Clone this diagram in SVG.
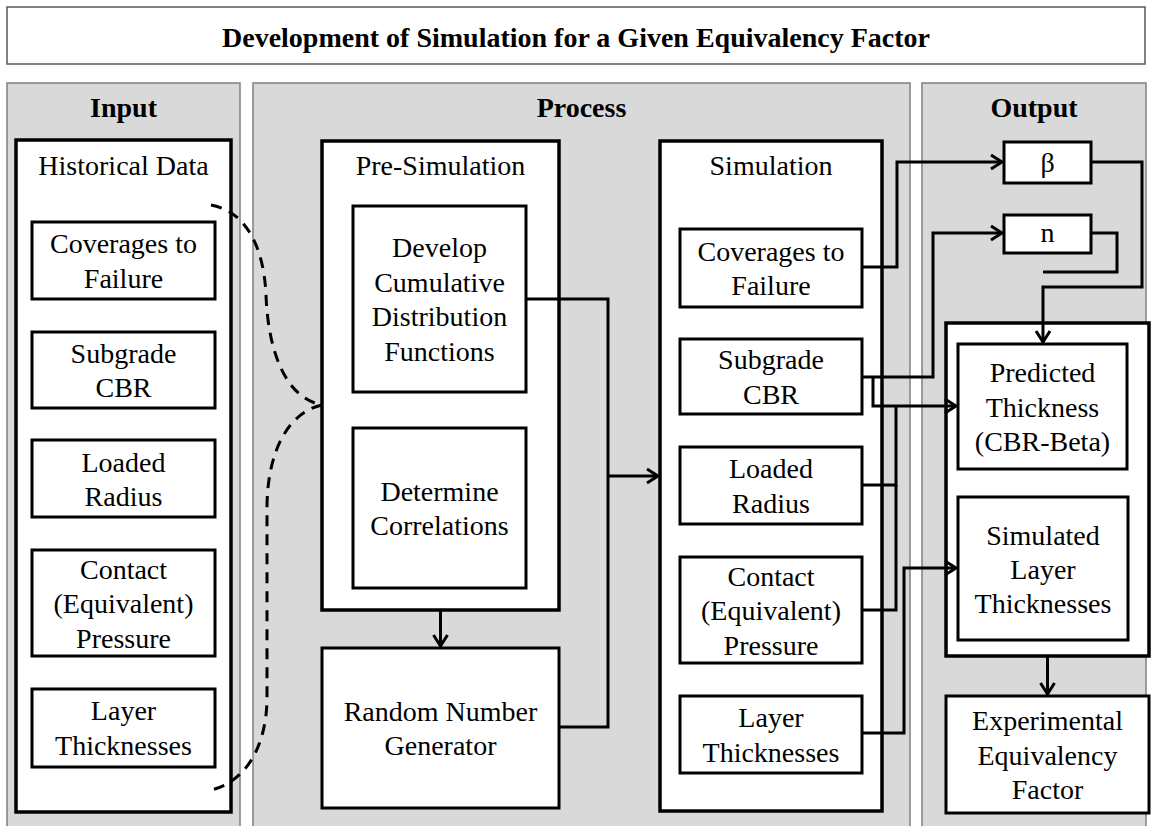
<svg xmlns="http://www.w3.org/2000/svg" width="1152" height="826" viewBox="0 0 1152 826">
<defs>
<marker id="arr" markerUnits="userSpaceOnUse" viewBox="-14 -10 16 20" refX="0" refY="0" markerWidth="16" markerHeight="20" orient="auto">
<path d="M-11,-7 L0,0 L-11,7" fill="none" stroke="#000" stroke-width="3" stroke-linejoin="miter"/>
</marker>
</defs>
<style>
text{font-family:"Liberation Serif","Times New Roman",serif;font-size:28px;fill:#000;text-anchor:middle}
.b{font-weight:bold}
.panel{fill:#d9d9d9;stroke:#7f7f7f;stroke-width:1.5}
.big{fill:#fff;stroke:#000;stroke-width:3.5}
.box{fill:#fff;stroke:#000;stroke-width:3}
.c{fill:none;stroke:#000;stroke-width:3}
.ca{fill:none;stroke:#000;stroke-width:3;marker-end:url(#arr)}
.dash{fill:none;stroke:#000;stroke-width:3;stroke-dasharray:11 8}
</style>
<rect width="1152" height="826" fill="#fff"/>
<g id="title">
<rect x="7" y="7" width="1138" height="57" fill="#fff" stroke="#595959" stroke-width="1.5"/>
<text class="b" x="576" y="47">Development of Simulation for a Given Equivalency Factor</text>
</g>
<g id="panel-input">
<rect class="panel" x="7" y="83" width="233" height="760"/>
<text class="b" x="123.5" y="117">Input</text>
</g>
<g id="panel-process">
<rect class="panel" x="253" y="83" width="657" height="760"/>
<text class="b" x="581.5" y="117">Process</text>
</g>
<g id="panel-output">
<rect class="panel" x="922" y="83" width="224" height="760"/>
<text class="b" x="1034" y="117">Output</text>
</g>
<g id="historical-data">
<rect class="big" x="16" y="140" width="215" height="672"/>
<text x="123.5" y="175">Historical Data</text>
</g>
<g id="in-coverages">
<rect class="box" x="32" y="222" width="183" height="77"/>
<text x="123.5" y="253">Coverages to</text><text x="123.5" y="288">Failure</text>
</g>
<g id="in-subgrade">
<rect class="box" x="32" y="332" width="183" height="76"/>
<text x="123.5" y="363">Subgrade</text><text x="123.5" y="397">CBR</text>
</g>
<g id="in-loaded">
<rect class="box" x="32" y="440" width="183" height="77"/>
<text x="123.5" y="471.5">Loaded</text><text x="123.5" y="506">Radius</text>
</g>
<g id="in-contact">
<rect class="box" x="32" y="550" width="183" height="106"/>
<text x="123.5" y="579">Contact</text><text x="123.5" y="613">(Equivalent)</text><text x="123.5" y="648">Pressure</text>
</g>
<g id="in-layer">
<rect class="box" x="32" y="689" width="183" height="78"/>
<text x="123.5" y="720">Layer</text><text x="123.5" y="755">Thicknesses</text>
</g>
<g id="pre-simulation">
<rect class="big" x="322" y="141" width="237" height="469"/>
<text x="440.5" y="175">Pre-Simulation</text>
</g>
<g id="develop-cdf">
<rect class="box" x="353" y="206" width="173" height="186"/>
<text x="439.5" y="257">Develop</text><text x="439.5" y="291.5">Cumulative</text><text x="439.5" y="326">Distribution</text><text x="439.5" y="360.5">Functions</text>
</g>
<g id="determine-correlations">
<rect class="box" x="353" y="428" width="173" height="160"/>
<text x="439.5" y="500.5">Determine</text><text x="439.5" y="535">Correlations</text>
</g>
<g id="random-number">
<rect class="box" x="322" y="648" width="237" height="160"/>
<text x="440.5" y="720.5">Random Number</text><text x="440.5" y="755">Generator</text>
</g>
<g id="simulation">
<rect class="big" x="660" y="141" width="222" height="670"/>
<text x="771" y="175">Simulation</text>
</g>
<g id="sim-coverages">
<rect class="box" x="680" y="229" width="182" height="78"/>
<text x="771" y="260.5">Coverages to</text><text x="771" y="295">Failure</text>
</g>
<g id="sim-subgrade">
<rect class="box" x="680" y="339" width="182" height="75"/>
<text x="771" y="369">Subgrade</text><text x="771" y="403.5">CBR</text>
</g>
<g id="sim-loaded">
<rect class="box" x="680" y="447" width="182" height="77"/>
<text x="771" y="478">Loaded</text><text x="771" y="512.5">Radius</text>
</g>
<g id="sim-contact">
<rect class="box" x="680" y="557" width="182" height="106"/>
<text x="771" y="586">Contact</text><text x="771" y="620">(Equivalent)</text><text x="771" y="655">Pressure</text>
</g>
<g id="sim-layer">
<rect class="box" x="680" y="696" width="182" height="77"/>
<text x="771" y="727">Layer</text><text x="771" y="761.5">Thicknesses</text>
</g>
<g id="beta">
<rect class="box" x="1004" y="142" width="87" height="41"/>
<text x="1047.5" y="172">β</text>
</g>
<g id="n">
<rect class="box" x="1004" y="215" width="87" height="38"/>
<text x="1047.5" y="242">n</text>
</g>
<g id="output-group">
<rect class="big" x="946" y="323" width="203" height="333"/>
</g>
<g id="predicted-thickness">
<rect class="box" x="958" y="344" width="169" height="125"/>
<text x="1042.5" y="382">Predicted</text><text x="1042.5" y="416.5">Thickness</text><text x="1042.5" y="451">(CBR-Beta)</text>
</g>
<g id="simulated-layer">
<rect class="box" x="958" y="497" width="170" height="143"/>
<text x="1043" y="545">Simulated</text><text x="1043" y="579">Layer</text><text x="1043" y="613">Thicknesses</text>
</g>
<g id="experimental-factor">
<rect class="box" x="946" y="696" width="203" height="117"/>
<text x="1047.5" y="730">Experimental</text><text x="1047.5" y="764.5">Equivalency</text><text x="1047.5" y="799">Factor</text>
</g>
<g id="connectors">
<path class="dash" d="M211 205 C248 212 264 250 266 295 C268 350 285 398 322 405"/>
<path class="dash" d="M322 405 C290 412 268 448 267 505 L267 700 C266 748 245 782 211 790"/>
<path class="c" d="M526 299 H608 V727 H559"/>
<path class="ca" d="M608 476 H658"/>
<path class="ca" d="M440.5 610 V646"/>
<path class="ca" d="M862 267 H897 V162 H1002"/>
<path class="ca" d="M862 377 H933 V233 H1002"/>
<path class="ca" d="M873 377 V406 H956"/>
<path class="c" d="M862 485 H896 V406"/>
<path class="c" d="M862 610 H896 V485"/>
<path class="ca" d="M862 733 H904 V568 H956"/>
<path class="ca" d="M1091 162 H1142 V287 H1043 V342"/>
<path class="c" d="M1091 233 H1117 V272 H1043"/>
<path class="ca" d="M1047.5 656 V694"/>
</g>
</svg>
